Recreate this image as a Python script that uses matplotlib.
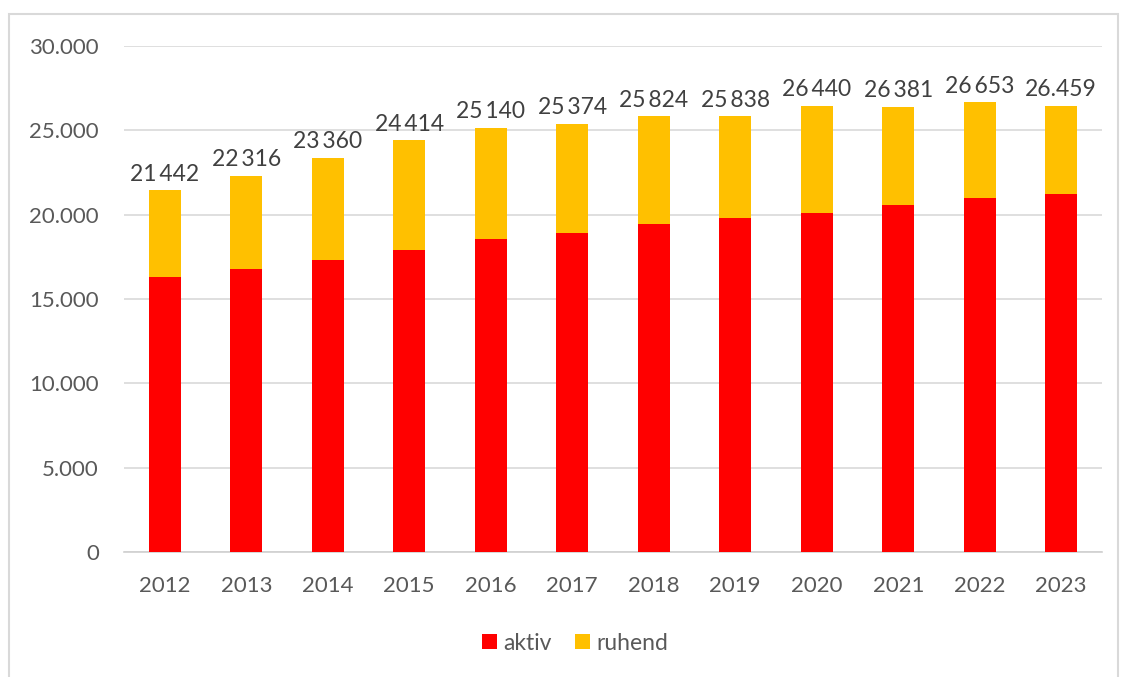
import matplotlib.pyplot as plt
from matplotlib.patches import Rectangle

years = ['2012', '2013', '2014', '2015', '2016', '2017', '2018', '2019', '2020', '2021', '2022', '2023']
totals = [21442, 22316, 23360, 24414, 25140, 25374, 25824, 25838, 26440, 26381, 26653, 26459]
total_labels = ['21\u2009442', '22\u2009316', '23\u2009360', '24\u2009414', '25\u2009140', '25\u2009374',
                '25\u2009824', '25\u2009838', '26\u2009440', '26\u2009381', '26\u2009653', '26.459']
aktiv = [16280, 16760, 17330, 17900, 18580, 18900, 19470, 19820, 20080, 20570, 20970, 21200]
ruhend = [t - a for t, a in zip(totals, aktiv)]

plt.rcParams['font.family'] = ['Lato', 'DejaVu Sans']
grey = '#595959'

fig = plt.figure(figsize=(11.24, 6.77), dpi=100)
ax = fig.add_axes([124 / 1124, 1 - 552 / 677, 978 / 1124, 506 / 677])

# outer frame of the chart area (bottom edge runs off the image)
fig.patches.append(Rectangle((9 / 1124, -0.05), 1109 / 1124, 1.05 - 14 / 677,
                             transform=fig.transFigure, fill=False,
                             edgecolor='#d9d9d9', linewidth=1.5))

x = range(len(years))
ax.bar(x, aktiv, width=0.39, color='#ff0000', label='aktiv', zorder=3)
ax.bar(x, ruhend, width=0.39, bottom=aktiv, color='#ffc000', label='ruhend', zorder=3)

for i in x:
    ax.annotate(total_labels[i], (i, totals[i]), xytext=(0, 4), textcoords='offset points',
                ha='center', va='bottom', fontsize=16.5, color='#404040')

ax.set_xlim(-0.5, 11.5)
ax.set_ylim(0, 30000)
ax.set_yticks(range(0, 30001, 5000))
ax.set_yticklabels(['0', '5.000', '10.000', '15.000', '20.000', '25.000', '30.000'])
ax.set_xticks(list(x))
ax.set_xticklabels(years)
ax.tick_params(length=0, labelsize=16, labelcolor=grey)
ax.tick_params(axis='y', pad=18)
ax.tick_params(axis='x', pad=17)
ax.grid(axis='y', color='#d9d9d9', linewidth=1.2, zorder=0)
for s in ['top', 'right', 'left']:
    ax.spines[s].set_visible(False)
ax.spines['bottom'].set_color('#d0d0d0')
ax.spines['bottom'].set_linewidth(1.2)

fig.legend(loc='center', bbox_to_anchor=(575 / 1124, 1 - 643 / 677), ncol=2, frameon=False,
           fontsize=16.5, labelcolor=grey, handlelength=0.65, handleheight=0.65,
           handletextpad=0.3, columnspacing=1.0)

fig.savefig('out.png', dpi=100)
